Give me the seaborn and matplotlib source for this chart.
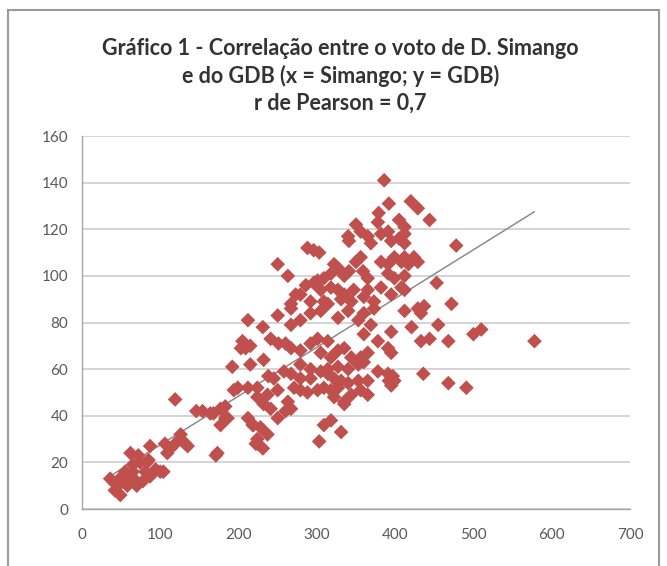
import matplotlib
matplotlib.use("Agg")
import matplotlib.pyplot as plt
import seaborn as sns
import pandas as pd
from matplotlib.patches import Rectangle

sns.set_style("white")
plt.rcParams['font.family'] = ['Lato', 'DejaVu Sans']

# votes per locality: x = Simango, y = GDB
simango = [
    36, 42, 42, 46, 49, 49, 51, 55, 58, 62, 62, 65, 65, 65, 69, 70, 72, 74, 78, 81,
    83, 85, 87, 87, 94, 100, 104, 106, 109, 113, 119, 119, 126, 126, 132, 135, 146, 154, 168, 171,
    183, 183, 194, 212, 212, 219, 224,
    250, 263, 286, 301, 273, 212, 250, 231, 205, 209, 215, 203, 241, 251, 192, 215, 232, 238, 245,
    199, 224, 224, 237, 250, 232, 241, 250, 164, 177, 186, 177, 218, 228, 237, 224, 231, 222, 173,
    386, 420, 429, 392, 379, 378, 405, 412, 350, 356, 340, 341, 365, 369, 382, 391, 395, 405, 288,
    296, 303, 356, 350, 382, 391, 399, 408, 417, 322, 328, 318, 335, 341, 359, 365, 391, 399, 412,
    309, 296, 279, 305, 318, 327, 335, 347, 365, 382, 395, 408, 292, 309, 331, 344, 360, 373, 267,
    267, 279, 267, 292, 305, 314, 327, 340, 353, 360, 373, 412, 429, 395, 421, 369, 360, 378, 391,
    395, 260, 267, 279, 292, 301, 314, 305, 318, 327, 335, 344, 356, 365, 279, 292, 305, 314, 327,
    340, 353, 360, 258, 267, 279, 292, 314, 322, 331, 340, 353, 365, 378, 391, 399, 395, 271, 279,
    288, 301, 309, 318, 327, 322, 335, 344, 356, 365, 263, 260, 267, 335, 318, 309, 331, 303,
    444, 412, 412, 478, 412, 424, 429, 412, 453, 437, 472, 433, 455, 433, 444, 468, 500, 510, 578,
    436, 468, 491, 397, 392,
]
gdb = [
    13, 11, 8, 10, 12, 6, 14, 16, 10, 14, 24, 16, 19, 12, 12, 10, 23, 20, 12, 16,
    20, 21, 14, 27, 17, 16, 16, 28, 24, 26, 28, 47, 30, 32, 28, 27, 42, 42, 41, 23,
    44, 39, 51, 52, 39, 36, 28,
    105, 100, 96, 98, 92, 81, 83, 78, 72, 69, 70, 69, 73, 71, 61, 62, 64, 57, 56,
    52, 52, 48, 49, 51, 45, 43, 39, 41, 43, 39, 36, 36, 35, 32, 30, 26, 28, 24,
    141, 132, 129, 131, 127, 123, 124, 121, 122, 119, 117, 115, 117, 114, 118, 119, 115, 116, 112,
    111, 110, 108, 106, 106, 105, 108, 106, 105, 105, 103, 101, 100, 102, 102, 99, 101, 99, 100,
    99, 97, 92, 94, 95, 94, 92, 94, 94, 95, 92, 95, 89, 89, 90, 89, 91, 89, 88,
    86, 81, 79, 84, 85, 88, 82, 85, 81, 84, 86, 85, 86, 76, 78, 79, 75, 72, 69,
    67, 71, 69, 68, 71, 73, 72, 67, 65, 68, 69, 65, 65, 67, 62, 60, 59, 60, 61,
    60, 62, 63, 59, 58, 56, 56, 58, 56, 55, 54, 55, 55, 59, 58, 55, 53, 52, 51,
    50, 51, 52, 51, 52, 48, 46, 49, 51, 49, 46, 42, 43, 45, 38, 36, 33, 29,
    124, 118, 114, 113, 108, 108, 106, 94, 97, 87, 88, 84, 79, 72, 73, 72, 75, 77, 72,
    58, 54, 52, 57, 55,
]

df = pd.DataFrame({'Simango': simango, 'GDB': gdb})

fig = plt.figure(figsize=(6.67, 5.66), dpi=100)
ax = fig.add_axes([0.1229, 0.1007, 0.8216, 0.659])

sns.regplot(data=df, x='Simango', y='GDB', scatter=False, ci=None, truncate=True,
            color='#8c8c8c', line_kws={'linewidth': 1.1, 'zorder': 2}, ax=ax)
sns.scatterplot(data=df, x='Simango', y='GDB', marker='D', color='#C0504D',
                s=56, edgecolor='none', linewidth=0, zorder=3, ax=ax)

ax.set_xlim(0, 700)
ax.set_ylim(0, 160)
ax.set_xticks(range(0, 701, 100))
ax.set_yticks(range(0, 161, 20))
ax.yaxis.grid(True, color='#d4d4d4', linewidth=1.4)
ax.xaxis.grid(False)
ax.set_axisbelow(True)
ax.set_xlabel('')
ax.set_ylabel('')

for side in ['top', 'right']:
    ax.spines[side].set_visible(False)
for side in ['left', 'bottom']:
    ax.spines[side].set_color('#a6a6a6')
    ax.spines[side].set_linewidth(1.0)

ax.tick_params(axis='both', direction='out', length=4, color='#a6a6a6',
               labelsize=11, labelcolor='#595959', pad=6)
ax.tick_params(axis='x', pad=10)

fig.text(0.51, 0.933, 'Gráfico 1 - Correlação entre o voto de D. Simango\n'
         'e do GDB (x = Simango; y = GDB)\nr de Pearson = 0,7',
         ha='center', va='top', fontsize=15.5, fontweight='bold', color='#333333',
         linespacing=1.32)

# chart area border, like the spreadsheet frame
fig.patches.append(Rectangle((8 / 667, -0.02), 651 / 667, 1 - 10 / 566 + 0.02,
                             transform=fig.transFigure, fill=False,
                             edgecolor='#9a9a9a', linewidth=1.5))

fig.savefig('out.png', dpi=100)
